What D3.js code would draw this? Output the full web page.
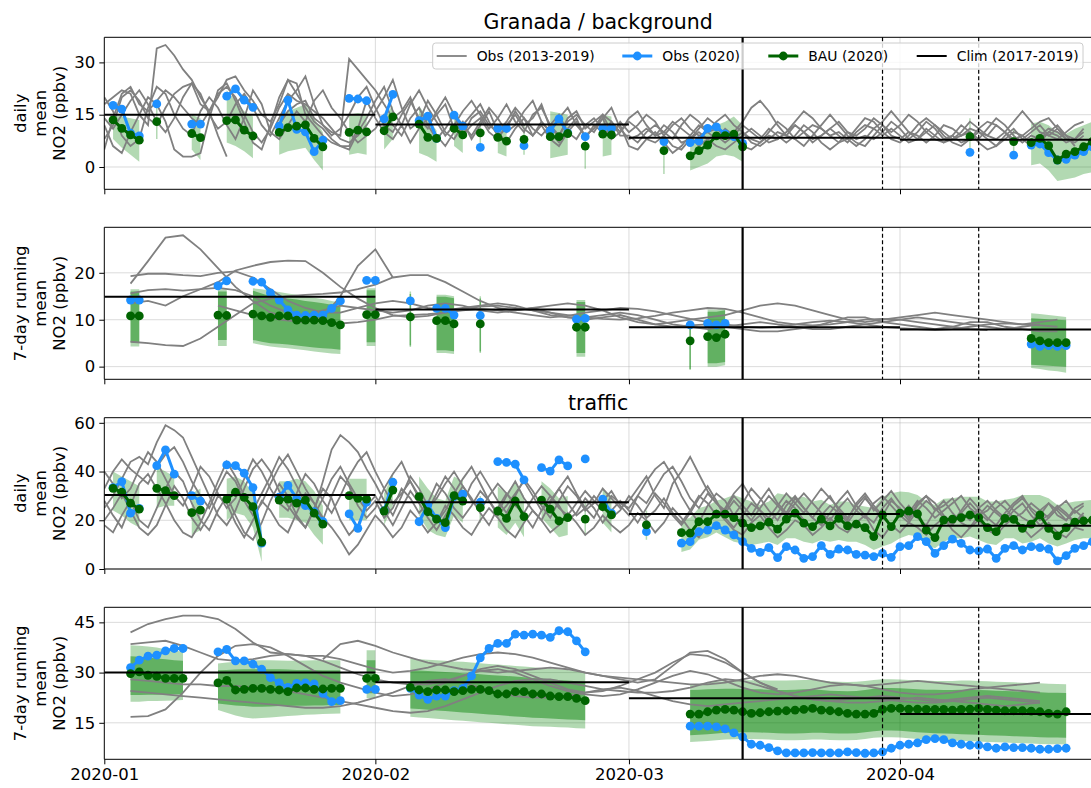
<!DOCTYPE html>
<html>
<head>
<meta charset="utf-8">
<script src="https://cdn.jsdelivr.net/npm/d3@7"></script>
<style>
  body { margin: 0; background: #fff; }
  svg { display: block; font-family: "DejaVu Sans", sans-serif; }
</style>
</head>
<body>
<svg id="chart" width="1091" height="788"></svg>
<script>
// ---- days (index 0 = 2020-01-01) ----
const monthStarts = [0, 31, 60, 91, 121];
const lockdownDay = 73;            // 2020-03-14
const phaseDays = [89, 100];       // 2020-03-30, 2020-04-10
const dailyDays = d3.range(0, 113);
const runDays = d3.range(3, 111, 2);

// ---- Granada / background, daily ----
const bgDailyPast = [
  [18,20,22,21,15,12,34,35,32,28,25,20,16,9,3,null,null,null,null,null,12,16,18,19,14,12,10,9,31,28,25,
   22,18,14,16,20,13,12,15,18,11,9,14,16,12,10,13,17,14,11,9,12,15,10,8,12,14,11,9,13,
   10,12,15,13,9,6,5,8,11,14,12,9,10,13,17,19,16,12,9,8,10,12,11,9,7,8,11,14,13,10,8,
   7,9,12,14,12,9,7,6,8,11,13,12,10,8,9,11,13,14,11,9,8,10],
  [8,12,20,22,19,14,12,17,21,23,24,18,16,20,25,26,22,19,15,13,18,25,24,15,12,9,7,6,5,10,14,
   19,23,16,12,18,22,17,13,9,12,16,19,15,11,14,18,13,10,15,17,12,9,14,16,11,13,15,10,12,
   6,5,8,10,7,4,6,9,12,10,8,11,9,6,5,7,10,13,11,8,6,9,12,15,12,9,7,6,9,12,10,
   12,15,13,10,8,7,9,12,10,7,5,6,9,11,8,6,7,10,12,9,6,null],
  [12,6,4,10,15,20,18,13,5,3,3,4,14,22,24,19,13,7,5,12,20,25,21,17,13,11,8,6,6,11,19,
   14,10,8,12,7,11,14,9,6,10,13,8,12,16,10,7,11,14,9,12,8,6,10,13,9,11,14,8,10,
   13,11,8,7,9,12,14,11,9,10,13,15,12,10,8,7,9,8,10,13,16,14,11,9,10,8,6,8,11,13,16,
   13,10,8,11,9,7,8,10,13,11,9,8,10,13,16,13,10,9,11,8,7,9],
  [5,14,21,23,18,16,19,22,20,17,14,12,16,21,23,20,15,10,7,11,17,21,19,18,16,14,11,8,7,9,12,
   16,20,25,17,11,13,19,15,10,8,12,15,18,13,9,11,16,12,14,18,11,9,13,15,12,10,14,17,11,
   8,9,11,9,12,10,7,8,10,8,6,5,7,9,11,9,7,8,10,12,10,8,9,11,9,7,10,12,11,9,11,
   9,7,8,10,12,10,8,9,11,10,8,6,8,10,9,7,9,11,10,8,null,null],
  [20,16,9,6,8,17,23,21,15,11,9,16,20,17,12,8,14,22,18,10,8,12,16,13,19,22,17,14,10,7,9,
   11,15,12,9,14,17,12,8,11,15,9,12,14,10,8,12,15,11,9,13,10,7,11,14,8,12,10,13,9,
   9,7,10,12,10,13,11,9,6,8,9,7,9,12,10,8,11,9,7,9,12,10,7,5,7,10,9,11,14,12,9,
   8,10,9,7,9,12,11,9,10,8,11,14,12,9,7,9,8,10,9,7,8,11],
  [14,11,15,19,22,18,13,10,14,20,24,21,15,11,13,18,21,17,12,9,14,19,22,26,18,12,9,11,15,20,23,
   17,12,10,15,19,14,11,16,20,15,12,9,13,17,14,10,12,16,19,13,10,14,17,12,9,11,15,13,10,
   14,16,12,9,10,8,12,15,13,10,11,9,8,10,7,6,8,10,9,12,10,7,9,11,13,10,8,9,8,10,13,
   11,8,10,13,11,8,9,7,8,10,9,12,10,7,8,10,12,9,8,10,12,13]
];
const bgDailyObs = [[1,[17.7,16.6,9.7,8.9]],[6,[18.1]],[10,[12.3,12.3]],[14,[20.3,22.4,19.2,17.1]],
  [20,[11.7,19.2,10.8,10.1,4.4,7.7]],[28,[19.7,19.5,19.0]],[32,[13.8,20.8]],[36,[13.3,14.6,8.2]],
  [40,[14.9,11.7]],[43,[5.6]],[45,[11.1,11.1]],[48,[6.1]],[51,[10.4,13.8,9.8]],[55,[8.7]],
  [57,[11.1,11.1]],[64,[7.3]],[67,[7.0,7.5,11.1,11.5,9.5,8.7,6.8]],[99,[4.2]],[104,[3.4]],
  [106,[6.3,6.6,4.1,2.0,2.2,3.4,4.4,5.8]]];
const bgDailyBau = [[1,[13.5,11.1,9.2,7.7]],[6,[13.0]],[10,[9.6,8.4]],[14,[13.3,13.5,10.6,8.9]],
  [20,[9.9,11.3,11.7,12.1,8.2,5.8]],[28,[9.9,10.6,10.1]],[32,[10.4,14.4]],[36,[12.3,8.5,8.2]],
  [40,[11.1,9.2]],[43,[9.8]],[45,[8.5,7.4]],[48,[7.9]],[51,[8.7,8.7,9.6]],[55,[6.0]],
  [57,[9.4,9.2]],[64,[4.7]],[67,[3.2,4.7,6.3,8.9,9.0,9.4,5.8]],[99,[8.7]],[104,[7.3]],
  [106,[7.0,8.2,6.1,2.0,3.7,4.4,5.8,7.3]]];
const bgDailyBand = [[1,[8,5.5,3.5,1.5],[15,14.5,14,13.5]],[6,[8],[17]],[10,[5,2],[15,14]],
  [14,[7,6,4.5,2.5],[22,19,16,14.5]],[20,[3.5,4.5,5,5.5,2,-1],[15,16,17,18,14,10]],
  [28,[3.5,4,3.5],[15,15.5,15]],[32,[5,8],[15,17.5]],[36,[4,3,1.5],[17.5,14,10.5]],
  [40,[6,4],[14,12.5]],[43,[6],[13]],[45,[4,3],[12,11]],[48,[3.5],[12]],
  [51,[2.5,3,3.5],[16,15.5,15]],[55,[-0.5],[10]],[57,[3,3.5],[15,14.5]],[64,[-2],[8]],
  [67,[-1,0,1,3,3.5,3,1.5],[7,8,10,12,13,14.5,12]],[99,[4],[14]],[104,[4],[11]],
  [106,[0.5,1,-1,-4,-3.5,-3,-2,-1.5],[12.5,13,12,10,9.5,11,12,13]]];
const bgDailyClim = [15, 12.2, 8.4, 7.8];

// ---- Granada / background, 7-day running mean ----
const bgRunPast = [
  [17.7,22.5,27.5,28,25,21,17,14,11.5,10.5,11,12,13,12.5,12,11.5,12,13,13.5,13,12,11.5,12,12.5,11.5,10.5,10,10.5,11,10,9,8.5,8.8,9,8.5,8,7.5,7.5,8,8.5,9.5,10.5,10.5,9.5,9,8.5,8,8.5,9.5,9.5,8.5,8,7.5,7.5],
  [19.3,19.8,19.8,19.5,19.3,20,20.3,19,16.5,14,12.5,11.5,11.5,12.5,13.5,14,13.5,12.5,12,12.5,13,13.5,13,12,11,10.5,10.5,11,11.5,11,10,9,8.5,8,8.5,9,9.5,9,8.5,8,8,8.5,9,9.5,10,10.5,10,9.5,9,8.5,8,8.5,9,null],
  [5.3,5,4.6,4.4,6,8.5,11,13.5,14.5,15,15.3,15.5,15.8,16.5,17.5,19,19.5,19.5,18,16,14,12.5,12,12.5,13,13.5,13,12,10.5,9.5,9,9.5,10,10.5,11,12,13,13.5,13,12,11,10,9.5,10,10.5,11,11.5,11,10.5,10,9.5,9,9.5,10],
  [15.6,16.3,16.5,16.2,16.5,16.8,16.3,15,13,11.5,10.5,9.5,9.2,9.5,10,10.8,11,11.2,11.5,12,12.3,12,11.5,11,10.5,10.8,11.5,12,12.5,12.3,11.8,11,10.2,9.5,9,8.5,8.3,8.5,9,9.5,9.8,9.5,9,8.5,8.2,8,7.8,8,8.5,9,9.2,9,8.8,8.5],
  [13.5,14,13,15,16.5,18,20.5,21.5,22.3,22.6,22.5,20,17,14.5,12.5,11,10.5,10.8,11.5,12.3,12.8,13,12.5,12,11.5,11,10.5,10.2,10,10.3,10.8,11.5,12,12.5,12.3,11.5,10.5,9.5,9,8.8,9,9.5,10,10.2,10,9.5,9,8.5,8,7.8,null,null,null,null],
  [null,null,null,null,null,13,12,11,10.3,9.8,9.5,10.5,15,21.5,25,19,null,null,null,null,null,null,null,null,null,null,null,null,null,null,null,null,null,null,null,null,null,null,null,null,null,null,null,null,null,null,null,null,null,null,null,null,null,null]
];
const bgRunObs = [[3,[14.2,14.2]],[13,[17.2,18.3]],[17,[18.2,18.0,15.7,14.2,12.1,11.0,10.9,11.0,11.0,12.4,14.0]],
  [30,[18.4,18.4]],[35,[14.0]],[38,[12.4,12.4,11.0]],[43,[10.9]],[54,[10.1,10.3]],[67,[8.9]],
  [69,[9.2,8.9,9.2]],[106,[4.8,4.3,4.5,4.3,4.5]]];
const bgRunBau = [[3,[10.8,10.8]],[13,[11.0,10.9]],[17,[11.2,10.8,10.5,10.8,10.8,9.9,9.9,9.9,9.8,9.4,8.9]],
  [30,[11.1,11.1]],[35,[10.6]],[38,[9.8,9.8,9.1]],[43,[9.1]],[54,[8.4,8.4]],[67,[5.5]],
  [69,[6.4,6.2,6.9]],[106,[6.0,5.5,5.1,5.1,5.1]]];
const bgRunBandOuter = [[3,[4.3,4.3],[16.5,16.5]],[13,[4.4,4.4],[16.5,16.5]],
  [17,[5,4.6,4.3,4.1,3.9,3.7,3.5,3.2,3,2.8,2.7],[16.7,16.5,16.2,15.9,15.6,15.3,15,14.7,14.4,14,13.6]],
  [30,[4.4,4.4],[16.7,16.7]],[35,[4.2],[16]],[38,[2.9,2.9,2.7],[15.3,15.3,15]],[43,[2.9],[15]],
  [54,[2.1,2.1],[14.2,14.2]],[67,[-0.7],[9]],[69,[0,0,0.3],[12.2,12.2,12.5]],
  [106,[-0.3,-0.5,-0.8,-1,-1.3],[11.4,11.2,11,10.8,10.6]]];
const bgRunBandInner = [[3,[5.2,5.2],[16,16]],[13,[5.7,5.7],[16,16]],
  [17,[5.7,5.3,5,4.9,4.7,4.5,4.3,4.1,3.9,3.8,3.6],[16.2,15.6,15,14.8,14.5,14.3,14,13.8,13.5,13.2,12.8]],
  [30,[5.2,5.2],[16.3,16.3]],[35,[4.5],[15.5]],[38,[3.5,3.5,3.3],[14.9,14.9,14.6]],[43,[3.2],[14.5]],
  [54,[2.9,2.9],[13.8,13.8]],[67,[-0.5],[8.9]],[69,[0.7,0.7,1],[11.7,11.7,12]],
  [106,[0.4,0.3,0.2,0.1,0],[10.3,10.2,10.1,10,9.9]]];
const bgRunClim = [14.9, 12.2, 8.4, 7.9];

// ---- traffic, daily ----
const trDailyPast = [
  [25,30,37,44,46,43,52,59,57,54,46,38,30,22,18,24,33,41,45,40,32,26,21,17,24,36,49,55,52,48,41,
   35,28,22,30,38,33,26,19,24,31,37,42,35,28,23,30,36,29,24,20,27,33,38,31,25,21,28,32,26,
   22,30,36,41,44,38,30,24,19,26,31,28,22,27,33,29,24,20,26,30,25,21,18,23,28,32,26,22,19,25,29,
   24,20,26,30,27,22,19,24,29,25,21,18,23,27,30,24,20,22,26,23,19,22],
  [18,15,22,28,20,17,25,33,40,36,27,20,16,24,30,22,15,12,19,28,35,30,22,17,25,33,29,20,14,18,26,
   30,24,18,25,32,27,21,16,22,28,34,29,23,18,25,31,27,22,17,24,30,26,20,23,29,25,19,24,28,
   24,19,25,31,27,22,18,23,29,34,28,21,17,22,27,24,19,23,28,25,20,17,22,26,23,19,24,29,25,21,18,
   22,26,21,18,24,28,23,19,17,22,26,23,20,24,27,22,18,21,25,22,19,23],
  [33,40,45,41,38,35,42,47,50,44,36,30,25,33,40,36,28,22,27,35,42,47,40,33,27,20,30,38,34,26,21,
   25,33,39,44,36,29,24,31,38,33,27,35,40,34,28,23,30,37,32,26,21,28,34,30,24,27,33,29,25,
   28,33,38,30,25,35,40,46,39,32,27,24,30,26,22,28,33,27,23,29,25,21,26,30,24,20,27,31,26,22,28,
   25,21,27,30,24,26,29,23,20,25,28,24,21,26,29,25,22,27,24,20,25,27],
  [20,25,31,24,17,14,18,26,34,29,21,16,22,30,27,19,13,20,28,24,18,15,23,31,27,21,17,12,6,10,16,
   22,18,13,17,24,20,15,19,26,22,17,14,20,25,21,16,13,19,24,20,15,18,23,19,14,17,22,18,15,
   18,23,20,15,19,25,21,16,13,18,24,20,16,14,19,22,17,13,16,20,18,14,17,21,17,15,19,22,16,13,18,
   15,19,17,14,18,21,16,13,17,20,16,14,18,21,17,13,16,19,15,13,17,16],
  [28,22,17,26,35,39,33,27,20,15,13,19,27,36,44,38,30,24,31,38,46,41,34,27,22,29,37,42,35,29,24,
   28,21,25,33,29,23,27,35,31,25,21,26,32,28,22,26,31,36,30,24,28,33,27,22,25,30,26,21,24,
   30,26,21,24,29,23,19,24,30,27,22,25,31,35,29,24,21,26,31,27,23,28,33,29,25,21,26,30,24,28,32,
   27,23,28,25,21,24,27,30,25,22,24,28,25,21,23,27,24,21,25,28,23,26],
  [40,35,29,33,41,48,44,37,30,26,33,42,38,31,25,29,37,45,40,33,27,24,31,39,35,28,23,30,38,44,48,
   40,33,27,31,36,30,25,29,35,40,34,28,24,30,35,31,26,23,29,34,30,25,22,27,32,28,24,30,27,
   25,30,27,33,39,42,36,29,25,31,27,23,28,24,20,25,30,26,22,27,31,27,23,20,25,29,24,21,27,30,26,
   22,19,24,28,25,21,18,23,27,23,20,25,28,24,21,19,24,27,22,20,24,21]
];
const trDailyObs = [[1,[33.4,35.9,22.9,24.9]],[6,[42.4,48.9,38.9]],[10,[30.1,27.9]],
  [14,[42.7,42.4,39.3,33.4,10.6]],[20,[29.5,34.3,29,26,23.5,19.5]],[28,[22.6,16.7,27.4]],
  [32,[24,35.6]],[36,[19.4,26.3,20.8,17,29.7,30.7]],[43,[27.4]],[45,[44.1,43.8,43,36.6]],
  [50,[41.6,40.2,44.8,42.3]],[55,[45.2]],[57,[28.7,22.9]],[62,[15.3]],
  [66,[10.6,11.2,15.3,16,17.8,16,14.0,11.2,8.5,6.8,8.8,4.7,9.2,7.8,4.4,5.1,9.6,6.0,8.2,7.8,6.0,5.7,
       5.1,6.4,4.8,9.2,9.6,13.3,11.2,6.4,9.6,12.3,10.5,7.8,7.4,8.2,4.4,8.5,9.6,7.8,9.2,8.8,8.2,3.3,
       5.5,8.5,9.6,11.2]]];
const trDailyBau = [[1,[33.1,31.5,27,24.6]],[6,[33.1,32.2,30.1]],[10,[23.1,24.2]],
  [14,[28.7,31.5,29.4,25.6,11.0]],[20,[28.3,28.7,27,28.3,22.9,18.4]],[28,[30.1,29,28.7]],
  [32,[23.8,32.4]],[36,[29.7,23.5,20.5,19,30.1,27.9]],[43,[25.2]],[45,[23.8,20.8,27.9,21.5]],
  [50,[28.3,24.6,19.7,21.1]],[55,[20.5]],[57,[25.6,22.2]],[62,[18.1]],
  [66,[14.9,14.7,19.4,19.4,22.5,22.5,21.1,18.8,17.0,17.7,19.2,16.4,20.5,22.9,18.8,17.4,20.5,17.7,
       20.8,17.7,18.4,17.0,13.3,22.2,17.4,22.9,23.8,22.6,16.0,12.9,20.1,20.5,21.1,22.2,21.1,17.0,
       15.3,20.8,20.4,16.7,18.4,22.2,16.7,13.6,17.0,19.2,19.7,20.1]]];
const trDailyBand = [[1,[24,22,19,17],[40,38,36,34]],[6,[25,26,26],[42,40,38]],[10,[14,16],[31,33]],
  [14,[20,23,22,17,3],[37,38,36,31,17]],[20,[21,21,20,19,14,10],[36,36,37,36,32,26]],
  [28,[20,20,20],[37,37,37]],[32,[18,26],[31,39]],[36,[22,16,14,13,22,19],[38,33,29,28,38,36]],
  [43,[19],[30]],[45,[17,14,19,13],[34,31,36,30]],[50,[21,17,13,14],[36,33,29,30]],[55,[14],[27]],
  [57,[19,15],[33,30]],[62,[12],[24]],
  [66,[7,8,12,13,15,13,11.2,10.5,9.9,10.5,11.2,9.9,12.6,12.6,11.2,10.5,11.9,11.2,11.9,11.2,11.2,9.9,
       7.8,9.2,10.5,12.6,14.0,13.3,9.9,8.5,11.2,12.6,12.6,13.3,11.9,10.5,9.9,12.6,12.6,10.5,11.2,12.6,
       10.5,9.2,10.5,11.9,12.6,12.6],
      [20,21,25,26,28,29,30.4,29.0,27.7,26.3,27.7,31.1,30.4,29.0,29.7,27.7,28.4,26.3,27.7,27.7,26.3,
       25.7,25.0,29.7,31.1,31.8,31.5,30.4,27.7,26.3,28.8,29.0,29.7,29.7,29.7,27.7,27.7,28.4,29.0,30.4,
       30.4,30.4,29.0,26.3,27.0,27.7,28.0,28.4]]];
const trDailyClim = [30.4, 27.4, 22.6, 17.8];

// ---- traffic, 7-day running mean ----
const trRunPast = [
  [42,44.5,46,47,47,46,43,39,36,35.5,35,35,34,32.5,31,30,30.5,31.5,33,34.5,35.5,36,35.5,34.5,33,31.5,30,29,28.5,28,27.5,27,26.5,26.5,27,28,29,29.5,29,28,27,26.5,26,26.5,27,27.5,27,26.5,26,25.5,26,26.5,27,null],
  [16.8,17,19,24,30,35,38,38.5,37.5,35,32,29,27,25.5,24,23,23.5,25,27,29,31,32,31,29,27,25,24,24.5,26,28,30,33,35.5,35,33,30,27,24.5,23,22,21.5,22,22.5,23,22.5,22,21.5,22,22.5,23,22.5,22,21.5,null],
  [38.5,39,39.5,38,36,34,33.5,34,35,35.5,35,33.5,31.5,29.5,28,27,26.5,26.5,27.5,29,30.5,31,30,28,26,24.5,23.5,23,23.5,25,27,29,30.5,29.5,27.5,25.5,24,23.5,24,25,26,26.5,26,25,24,23.5,23.5,24,25,25.5,25,24.5,24,null],
  [24.5,24,23.5,23,22.5,22,21.5,21,20.5,20,19.5,19.5,20,21,22.5,24,26,27.5,28,27,25.5,24,23,22.5,22.5,23,24,25,25.5,24.5,23,21.5,20.5,20,20.5,21,21.5,22,22.5,23,23.5,23,22.5,22,21.5,21,21,21.5,22,22.5,22,21.5,21,null],
  [28,27.5,27,26.5,26.5,26,26,25.5,25,24.5,23.5,22.5,21.5,20.5,19.5,18.5,18,18.5,20,22,24,26,27.5,28,28,27,26,25,24.5,24,24,24.5,25.5,27,28,27.5,26,24.5,23,22,21.5,21,21,21.5,22,22.5,22,21.5,21,20.5,20,20.5,21,null],
  [null,null,null,null,null,null,null,null,null,null,null,34,38.5,39.5,38,36,34.5,33,32,31,30.5,30,30.5,31,31.5,31,30,29,28,27,28,32,36,36.5,34,30,27,25,null,null,null,null,null,null,null,null,null,null,null,null,null,null,null,null]
];
const trRunObs = [[3,[31.5,33.7,34.9,35.2,36.5,37.2,37.2]],
  [13,[36.2,36.9,33.5,33.5,32.5,31,28.5,26.9,25.6,26.8,26.9,26.6,23.8,21.3,21.6]],[30,[25,25]],
  [35,[25.3,23.3,22,23,23,24.6,25.3,29,34.4,37.2,38.7,38.7,41.5,41.2,41.5,41.2,40.5,42.5,42.2,39.5,36.2]],
  [67,[14,14,14,13.8,13.2,12.0,10.8,8.6,8.3,7.6,6.6,6.0,6.0,6.0,6.1,6.0,6.0,6.0,6.3,6.1,5.9,6.0,6.3,
       7.4,8.3,8.6,9.0,10.0,10.3,10.0,9.0,8.6,8.3,8.3,7.8,7.4,7.8,7.6,7.6,7.4,7.1,7.1,7.3,7.4]]];
const trRunBau = [[3,[29.7,30.2,29.2,28.9,28.3,28.3,28.3]],
  [13,[26.9,27.7,24.8,25,25.3,25.3,25,24.8,24.3,25.4,25.4,25,25.1,25.3,25.3]],[30,[28.3,28.3]],
  [35,[25.6,24.8,24.3,24.8,24.8,24.3,24.6,25,25,24.6,23.6,23.6,24.3,24.3,23.6,23.6,23,22.8,22.8,22.3,21.6]],
  [67,[17.6,17.6,18.3,18.8,19.0,18.8,18.3,17.8,18.0,18.3,18.5,18.6,18.8,19.0,19.3,18.8,18.6,18.3,17.8,
       17.6,17.6,17.8,19.0,19.3,19.3,19.1,19.1,19.0,19.0,19.0,18.8,19.0,19.1,19.3,19.0,18.8,18.6,18.6,
       18.6,18.5,18.3,17.8,17.6,18.3]]];
const trRunBandOuter = [[3,[21.3,21.3,21.5,21.5,21.6,21.7,21.8],[38.2,38,37.8,37.5,37,36.6,36.2]],
  [13,[18.8,18,17.2,16.6,16.3,16.4,16.6,16.8,17,17.2,17.4,17.5,17.6,17.7,17.8],
      [32.7,33,33.2,33.5,33.6,33.7,33.7,33.6,33.5,33.5,33.6,33.7,33.7,33.7,33.7]],
  [30,[22.3,22.3],[36.7,36.7]],
  [35,[16.8,16.6,16.4,16.2,16,15.8,15.6,15.4,15.2,15,14.8,14.6,14.4,14.2,14,13.9,13.8,13.7,13.6,13.4,13.3],
      [34.2,34,33.8,33.7,33.5,33.3,33.2,33,32.8,32.6,32.4,32.2,32,31.8,31.6,31.4,31.2,31,30.8,30.5,30.2]],
  [67,[9.3,9.4,9.6,9.8,10,10.1,10.2,10.2,10.1,10,9.9,9.8,9.8,9.9,10,10,9.9,9.8,9.8,9.9,10.2,10.5,10.7,
       10.7,10.6,10.4,10.2,10,9.9,9.8,9.7,9.6,9.5,9.4,9.3,9.2,9.1,9,8.9,8.8,8.7,8.6,8.6,8.5],
      [26.3,26.6,27,27.3,27.5,27.6,27.7,27.7,27.7,27.6,27.6,27.6,27.7,27.8,27.8,27.6,27.4,27.3,27.2,
       27.3,27.5,27.8,28,28,27.9,27.8,27.7,27.6,27.5,27.5,27.5,27.6,27.6,27.5,27.4,27.3,27.2,27.1,27,
       26.9,26.8,26.7,26.6,26.5]]];
const trRunBandInner = [[3,[23.3,23.3,23.4,23.4,23.5,23.5,23.5],[34.9,34.7,34.5,34.2,34,33.7,33.5]],
  [13,[20.8,20.5,20.2,20,19.8,19.8,19.9,20,20,20.1,20.1,20.2,20.2,20.3,20.3],
      [30.7,30.8,30.9,31,31,31,31,31,30.9,30.8,30.8,30.8,30.7,30.7,30.7]],
  [30,[23.8,23.8],[33.7,33.7]],
  [35,[19.3,19.1,18.9,18.7,18.5,18.3,18.1,17.9,17.7,17.5,17.3,17.1,16.9,16.7,16.5,16.4,16.3,16.1,16,15.9,15.8],
      [30.7,30.6,30.5,30.3,30.2,30,29.8,29.7,29.5,29.3,29.1,29,28.8,28.6,28.4,28.2,28,27.8,27.6,27.4,27.2]],
  [67,[11.3,11.4,11.6,11.8,12,12.1,12.2,12.2,12.1,12,11.9,11.8,11.8,11.9,12,12,11.9,11.8,11.8,11.9,
       12.2,12.5,12.7,12.7,12.6,12.4,12.2,12,11.9,11.8,11.7,11.6,11.5,11.4,11.3,11.2,11.1,11,10.9,10.8,
       10.7,10.6,10.6,10.5],
      [24.8,24.9,25,25.1,25.2,25.2,25.1,25,25,24.9,24.8,24.8,24.9,25,25,24.8,24.6,24.5,24.4,24.5,
       24.8,25.2,25.4,25.4,25.3,25.2,25,24.9,24.9,24.8,24.8,24.9,24.9,24.8,24.7,24.6,24.5,24.4,24.3,
       24.2,24.1,24,24,23.9]]];
const trRunClim = [30.0, 27.1, 22.3, 17.6];

// ---- drawing ----
const W = 1091;
const t0 = Date.UTC(2020, 0, 1);
const day = d => new Date(t0 + d * 864e5);
const x = d3.scaleUtc().domain([day(0), day(115)]).range([104.3, 104.3 + 8.744 * 115]);
const x0 = x.range()[0];
const svg = d3.select("#chart");
const defs = svg.append("defs");

const panels = [
  {top: 37.3, bottom: 189.3, domain: [-6.4, 37.2], ticks: [0, 15, 30], label: ["daily", "mean", "NO2 (ppbv)"],
   past: bgDailyPast, pastDays: dailyDays, obs: bgDailyObs, bau: bgDailyBau,
   bands: [{band: bgDailyBand, alpha: 0.3}], clim: bgDailyClim, title: "Granada / background", titleY: 22},
  {top: 227.3, bottom: 379.3, domain: [-2.7, 29.7], ticks: [0, 10, 20], label: ["7-day running", "mean", "NO2 (ppbv)"],
   past: bgRunPast, pastDays: runDays, obs: bgRunObs, bau: bgRunBau,
   bands: [{band: bgRunBandOuter, alpha: 0.3}, {band: bgRunBandInner, alpha: 0.45}], clim: bgRunClim},
  {top: 417.7, bottom: 569, domain: [0, 62.1], ticks: [0, 20, 40, 60], label: ["daily", "mean", "NO2 (ppbv)"],
   past: trDailyPast, pastDays: dailyDays, obs: trDailyObs, bau: trDailyBau,
   bands: [{band: trDailyBand, alpha: 0.3}], clim: trDailyClim, title: "traffic", titleY: 403},
  {top: 607.3, bottom: 759.3, domain: [4.1, 49.5], ticks: [15, 30, 45], label: ["7-day running", "mean", "NO2 (ppbv)"],
   past: trRunPast, pastDays: runDays, obs: trRunObs, bau: trRunBau,
   bands: [{band: trRunBandOuter, alpha: 0.3}, {band: trRunBandInner, alpha: 0.45}], clim: trRunClim, dates: true}
];

const segPoints = segs => segs.map(([s, vals]) => vals.map((v, i) => ({d: s + i, v})));
const bandPoints = segs => segs.map(([s, lo, hi]) => lo.map((v, i) => ({d: s + i, lo: v, hi: hi[i]})));

panels.forEach((p, idx) => {
  const y = d3.scaleLinear().domain(p.domain).range([p.bottom, p.top]);
  const g = svg.append("g");
  defs.append("clipPath").attr("id", "clip" + idx).append("rect")
    .attr("x", x0).attr("y", p.top).attr("width", W - x0).attr("height", p.bottom - p.top);

  // grid
  g.append("g").selectAll("line").data(p.ticks).join("line")
    .attr("x1", x0).attr("x2", W).attr("y1", d => y(d)).attr("y2", d => y(d))
    .attr("stroke", "#b0b0b0").attr("stroke-opacity", 0.45);
  g.append("g").selectAll("line").data(monthStarts.slice(1, 4)).join("line")
    .attr("x1", d => x(day(d))).attr("x2", d => x(day(d))).attr("y1", p.top).attr("y2", p.bottom)
    .attr("stroke", "#b0b0b0").attr("stroke-opacity", 0.45);

  const plot = g.append("g").attr("clip-path", `url(#clip${idx})`);
  const area = d3.area().x(d => x(day(d.d))).y0(d => y(d.lo)).y1(d => y(d.hi));
  const line = d3.line().defined(d => d.v != null).x(d => x(day(d.d))).y(d => y(d.v));

  // uncertainty bands
  p.bands.forEach(b => {
    bandPoints(b.band).forEach(seg => {
      if (seg.length > 1) {
        plot.append("path").datum(seg).attr("d", area).attr("fill", "green").attr("fill-opacity", b.alpha);
      } else {
        plot.append("line").attr("x1", x(day(seg[0].d))).attr("x2", x(day(seg[0].d)))
          .attr("y1", y(seg[0].lo)).attr("y2", y(seg[0].hi))
          .attr("stroke", "green").attr("stroke-opacity", b.alpha).attr("stroke-width", 1.5);
      }
    });
  });

  // past years
  p.past.forEach(s => {
    plot.append("path").datum(p.pastDays.map((d, i) => ({d, v: s[i]})))
      .attr("d", line).attr("fill", "none").attr("stroke", "#808080").attr("stroke-width", 1.8);
  });

  // obs 2020 and BAU
  [[p.obs, "#1e90ff"], [p.bau, "#006400"]].forEach(([segs, col]) => {
    segPoints(segs).forEach(seg => {
      plot.append("path").datum(seg).attr("d", line).attr("fill", "none")
        .attr("stroke", col).attr("stroke-width", 3);
      plot.append("g").selectAll("circle").data(seg).join("circle")
        .attr("cx", d => x(day(d.d))).attr("cy", d => y(d.v)).attr("r", 4.4).attr("fill", col);
    });
  });

  // climatology
  plot.append("g").selectAll("line").data(p.clim).join("line")
    .attr("x1", (d, i) => x(day(monthStarts[i]))).attr("x2", (d, i) => x(day(monthStarts[i + 1])))
    .attr("y1", d => y(d)).attr("y2", d => y(d)).attr("stroke", "black").attr("stroke-width", 2);

  // event lines
  g.append("line").attr("x1", x(day(lockdownDay))).attr("x2", x(day(lockdownDay)))
    .attr("y1", p.top).attr("y2", p.bottom).attr("stroke", "black").attr("stroke-width", 2.2);
  g.append("g").selectAll("line").data(phaseDays).join("line")
    .attr("x1", d => x(day(d))).attr("x2", d => x(day(d))).attr("y1", p.top).attr("y2", p.bottom)
    .attr("stroke", "black").attr("stroke-width", 1.2).attr("stroke-dasharray", "4,2.5");

  // axes
  const ya = g.append("g").attr("transform", `translate(${x0},0)`)
    .call(d3.axisLeft(y).tickValues(p.ticks).tickSize(5).tickPadding(4).tickSizeOuter(0));
  const xa = g.append("g").attr("transform", `translate(0,${p.bottom})`)
    .call(d3.axisBottom(x).tickValues(monthStarts.slice(0, 4).map(day)).tickSize(5).tickPadding(4)
      .tickFormat(p.dates ? d3.utcFormat("%Y-%m") : () => ""));
  [ya, xa].forEach(a => {
    a.select(".domain").remove();
    a.selectAll("text").attr("font-size", 16.5).attr("font-family", "DejaVu Sans").attr("fill", "black");
    a.selectAll("line").attr("stroke", "black");
  });

  // spines
  g.append("line").attr("x1", x0).attr("x2", x0).attr("y1", p.top).attr("y2", p.bottom).attr("stroke", "black");
  g.append("line").attr("x1", x0).attr("x2", W).attr("y1", p.top).attr("y2", p.top).attr("stroke", "black");
  g.append("line").attr("x1", x0).attr("x2", W).attr("y1", p.bottom).attr("y2", p.bottom).attr("stroke", "black");

  // y label
  const lab = g.append("text").attr("transform", `translate(40,${(p.top + p.bottom) / 2}) rotate(-90)`)
    .attr("text-anchor", "middle").attr("font-size", 16.5);
  p.label.forEach((t, i) => lab.append("tspan").attr("x", 0).attr("dy", i === 0 ? -19.5 : 19.5)
    .attr("dominant-baseline", "central").text(t));

  if (p.title) {
    svg.append("text").attr("x", (x0 + W) / 2 + 0.5).attr("y", p.titleY).attr("text-anchor", "middle")
      .attr("dominant-baseline", "central").attr("font-size", 20.5).text(p.title);
  }
});

// legend
const leg = svg.append("g").attr("font-size", 13.9);
leg.append("rect").attr("x", 432.7).attr("y", 43).attr("width", 650.3).attr("height", 26).attr("rx", 3)
  .attr("fill", "white").attr("fill-opacity", 0.8).attr("stroke", "#cccccc");
const legendItems = [
  {label: "Obs (2013-2019)", color: "#808080", width: 1.8, x: 436.7, marker: false},
  {label: "Obs (2020)", color: "#1e90ff", width: 3, x: 622.3, marker: true},
  {label: "BAU (2020)", color: "#006400", width: 3, x: 768.3, marker: true},
  {label: "Clim (2017-2019)", color: "black", width: 2, x: 916.7, marker: false}
];
legendItems.forEach(it => {
  leg.append("line").attr("x1", it.x).attr("x2", it.x + 30).attr("y1", 56).attr("y2", 56)
    .attr("stroke", it.color).attr("stroke-width", it.width);
  if (it.marker) leg.append("circle").attr("cx", it.x + 15).attr("cy", 56).attr("r", 4.4).attr("fill", it.color);
  leg.append("text").attr("x", it.x + 40).attr("y", 56).attr("dominant-baseline", "central").text(it.label);
});
</script>
</body>
</html>
